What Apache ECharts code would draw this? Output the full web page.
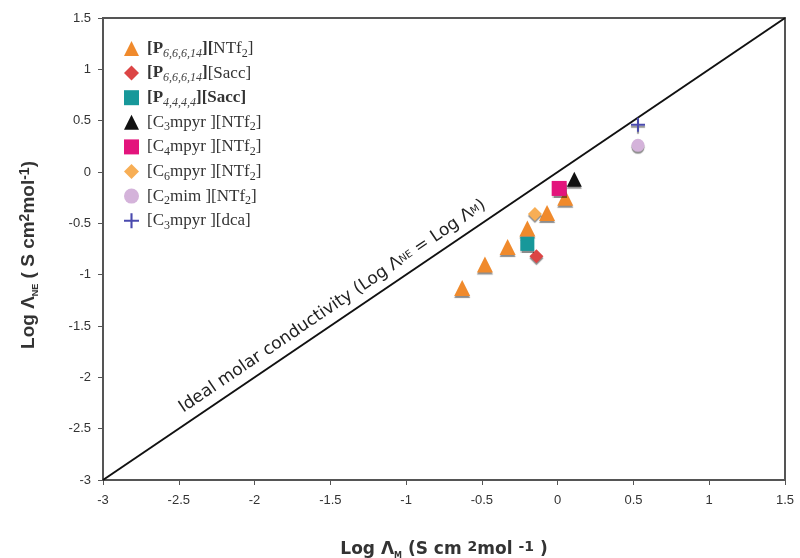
<!DOCTYPE html>
<html><head><meta charset="utf-8">
<script src="https://cdn.jsdelivr.net/npm/echarts@6/dist/echarts.min.js"></script>
<style>html,body{margin:0;padding:0;background:#fff}#c{width:800px;height:558px}</style>
</head><body><div id="c"></div>
<script>
const seriesNames = ['[P6,6,6,14][NTf2]','[P6,6,6,14][Sacc]','[P4,4,4,4][Sacc]','[C3mpyr ][NTf2]','[C4mpyr ][NTf2]','[C6mpyr ][NTf2]','[C2mim ][NTf2]','[C3mpyr ][dca]'];
const p66614NTf2 = [[-0.63,-1.13],[-0.48,-0.9],[-0.33,-0.73],[-0.2,-0.55],[-0.07,-0.4],[0.05,-0.25]];
const p66614Sacc = [[-0.14,-0.82]];
const p4444Sacc = [[-0.2,-0.7]];
const c3mpyrNTf2 = [[0.11,-0.07]];
const c4mpyrNTf2 = [[0.01,-0.16]];
const c6mpyrNTf2 = [[-0.15,-0.41]];
const c2mimNTf2 = [[0.53,0.26]];
const c3mpyrDca = [[0.53,0.46]];
const idealLine = [[-3,-3],[1.5,1.5]];
const xTicks = [-3,-2.5,-2,-1.5,-1,-0.5,0,0.5,1,1.5];
const yTicks = [-3,-2.5,-2,-1.5,-1,-0.5,0,0.5,1,1.5];

const plusPath = 'path://M4.3,0h1.4v4.3h4.3v1.4h-4.3v4.3h-1.4v-4.3h-4.3v-1.4h4.3z';
const allData = [p66614NTf2,p66614Sacc,p4444Sacc,c3mpyrNTf2,c4mpyrNTf2,c6mpyrNTf2,c2mimNTf2,c3mpyrDca];
const symbols = ['triangle','diamond','rect','triangle','rect','diamond','circle',plusPath];
const colors = ['#F08A2C','#DC4545','#17989A','#111111','#E3147C','#F7AE55','#D4B3DA','#4A4AAE'];
const sizes = [16,14,14,15,15,14,13,14];

const legendRich = {
  b:{fontFamily:'Liberation Serif',fontSize:17,color:'#333',lineHeight:22,fontWeight:'bold'},
  n:{fontFamily:'Liberation Serif',fontSize:17,color:'#333',lineHeight:22},
  si:{fontFamily:'Liberation Serif',fontSize:12,fontStyle:'italic',color:'#444',lineHeight:12,verticalAlign:'bottom'},
  s:{fontFamily:'Liberation Serif',fontSize:12,color:'#333',lineHeight:10,verticalAlign:'bottom'}
};
const legendFmt = {
  '[P6,6,6,14][NTf2]':'{b|[P}{si|6,6,6,14}{b|][}{n|NTf}{s|2}{n|]}',
  '[P6,6,6,14][Sacc]':'{b|[P}{si|6,6,6,14}{b|]}{n|[Sacc]}',
  '[P4,4,4,4][Sacc]':'{b|[P}{si|4,4,4,4}{b|][Sacc]}',
  '[C3mpyr ][NTf2]':'{n|[C}{s|3}{n|mpyr ][NTf}{s|2}{n|]}',
  '[C4mpyr ][NTf2]':'{n|[C}{s|4}{n|mpyr ][NTf}{s|2}{n|]}',
  '[C6mpyr ][NTf2]':'{n|[C}{s|6}{n|mpyr ][NTf}{s|2}{n|]}',
  '[C2mim ][NTf2]':'{n|[C}{s|2}{n|mim ][NTf}{s|2}{n|]}',
  '[C3mpyr ][dca]':'{n|[C}{s|3}{n|mpyr ][dca]}'
};

const series = [{
  type:'line', data: idealLine, symbol:'none', silent:true,
  lineStyle:{color:'#111',width:2}, z:1
}];
seriesNames.forEach((nm,i)=>{
  series.push({
    name:nm, type:'scatter', data: allData[i], symbol: symbols[i], symbolSize: sizes[i],
    itemStyle:{color:colors[i], opacity:1, shadowColor:'rgba(0,0,0,0.45)', shadowOffsetY:2, shadowBlur:1},
    z:3
  });
});

const chart = echarts.init(document.getElementById('c'));
const axisLabelStyle = {color:'#333',fontFamily:'Liberation Sans',fontSize:13};
chart.setOption({
  animation:false,
  backgroundColor:'#fff',
  grid:{left:103,right:15,top:18,bottom:78,outerBoundsMode:'none',containLabel:false,show:true,borderColor:'#555',borderWidth:2,backgroundColor:'transparent'},
  xAxis:{type:'value',min:-3,max:1.5,interval:0.5,
    axisLine:{show:true,onZero:false,lineStyle:{color:'#555',width:2}},
    axisTick:{show:true,length:5,lineStyle:{color:'#555'}},
    splitLine:{show:false},
    axisLabel:Object.assign({margin:14,formatter:v=>String(+v.toFixed(2))},axisLabelStyle),
    name:'{t|Log \u039B}{s|M}{t| (S cm }{sp|2}{t|mol }{sp|-1}{t| )}',
    nameLocation:'middle',nameGap:60,
    nameTextStyle:{rich:{
      t:{fontFamily:'DejaVu Sans',fontSize:17,fontWeight:'bold',color:'#333',lineHeight:20},
      s:{fontFamily:'DejaVu Sans',fontSize:8,fontWeight:'bold',color:'#333',lineHeight:8,verticalAlign:'bottom'},
      sp:{fontFamily:'DejaVu Sans',fontSize:14,fontWeight:'bold',color:'#333',lineHeight:14,verticalAlign:'top'}
    }}
  },
  yAxis:{type:'value',min:-3,max:1.5,interval:0.5,
    axisLine:{show:true,onZero:false,lineStyle:{color:'#555',width:2}},
    axisTick:{show:true,length:5,lineStyle:{color:'#555'}},
    splitLine:{show:false},
    axisLabel:Object.assign({margin:12,formatter:v=>String(+v.toFixed(2))},axisLabelStyle),
    name:'{t|Log \u039B}{s|NE}{t| ( S cm}{sp|2}{t|mol}{sp|-1}{t|)}',
    nameLocation:'middle',nameGap:63,nameRotate:90,
    nameTextStyle:{padding:[0,12,0,0],rich:{
      t:{fontFamily:'Liberation Sans',fontSize:19,fontWeight:'bold',color:'#333',lineHeight:22},
      s:{fontFamily:'Liberation Sans',fontSize:9,fontWeight:'bold',color:'#333',lineHeight:9,verticalAlign:'bottom'},
      sp:{fontFamily:'Liberation Sans',fontSize:14,fontWeight:'bold',color:'#333',lineHeight:14,verticalAlign:'top'}
    }}
  },
  legend:{
    data: seriesNames.map((n,i)=>({name:n, icon: symbols[i]})),
    orient:'vertical', left:119, top:35, itemWidth:15, itemHeight:15, itemGap:5.1,
    formatter: n=>legendFmt[n],
    textStyle:{rich:legendRich, padding:[0,0,0,3]},
    selectedMode:false
  },
  series: series
});

const p = chart.convertToPixel({gridIndex:0},[-1.43,-1.43]);
const ang = Math.atan2(462,682);
const off = 15;
chart.setOption({graphic:[{
  type:'text', x:p[0]-Math.sin(ang)*off, y:p[1]-Math.cos(ang)*off, rotation:ang, z:10,
  style:{
    text:'{a|Ideal molar conductivity (Log \u039B}{c|NE}{a| = Log \u039B}{c|M}{a|)}',
    align:'center', verticalAlign:'middle',
    rich:{
      a:{fontFamily:'DejaVu Sans',fontSize:17,fill:'#222',lineHeight:20},
      c:{fontFamily:'DejaVu Sans',fontSize:10,fill:'#222',lineHeight:20}
    }
  }
}]});
</script></body></html>
